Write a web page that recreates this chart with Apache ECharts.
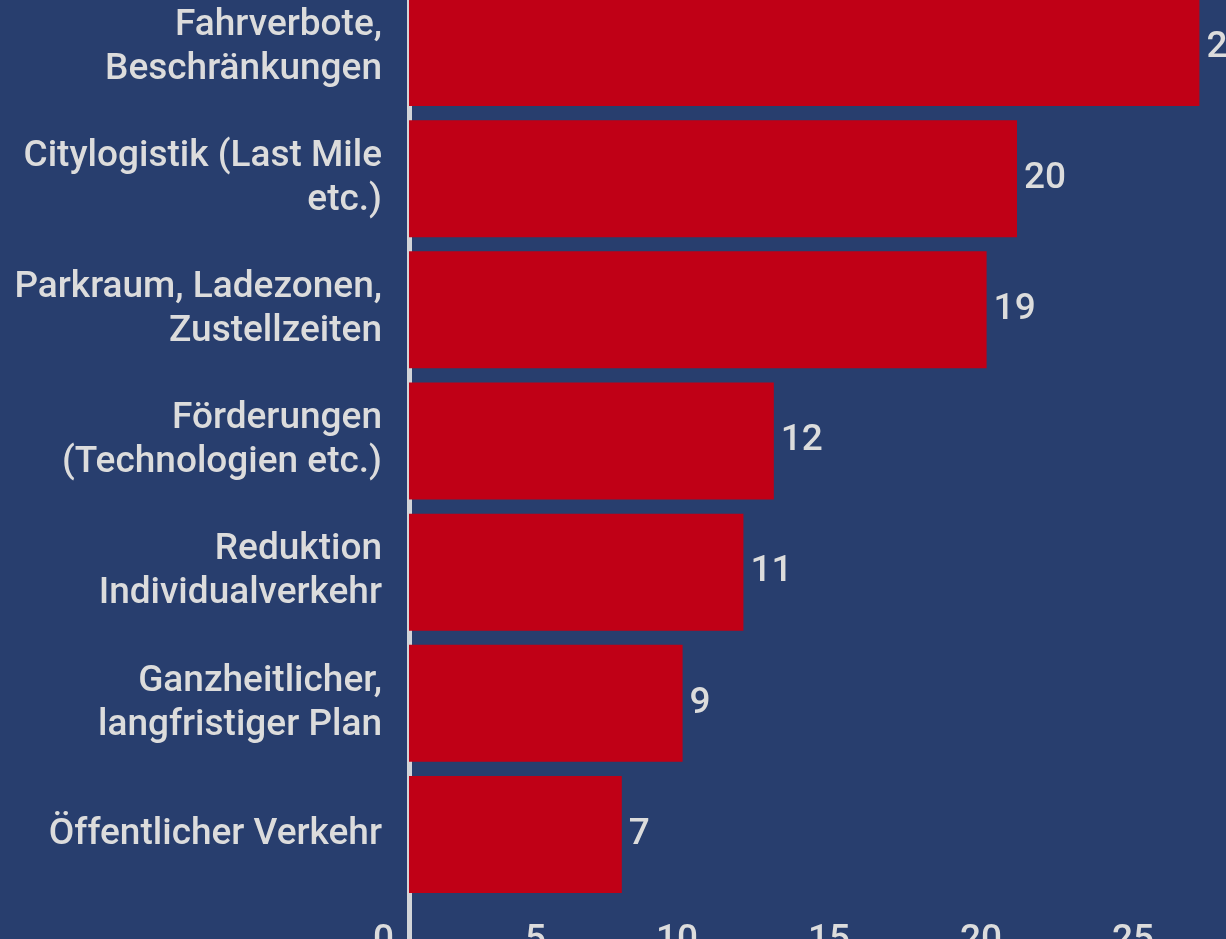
<!DOCTYPE html>
<html>
<head>
<meta charset="utf-8">
<script src="https://cdn.jsdelivr.net/npm/echarts@6/dist/echarts.min.js"></script>
<style>
    html, body { margin: 0; padding: 0; background: #283e6e; }
    #chart { width: 1226px; height: 939px; }
</style>
</head>
<body>
<div id="chart"></div>
<script>
const categories = [
    'Fahrverbote,\nBeschränkungen',
    'Citylogistik (Last Mile\netc.)',
    'Parkraum, Ladezonen,\nZustellzeiten',
    'Förderungen\n(Technologien etc.)',
    'Reduktion\nIndividualverkehr',
    'Ganzheitlicher,\nlangfristiger Plan',
    'Öffentlicher Verkehr',
];
const values = [26, 20, 19, 12, 11, 9, 7];
const xTicks = [0, 5, 10, 15, 20, 25, 30];

const textColor = '#dcdcdc';
const lineColor = '#d2d4d8';

const myChart = echarts.init(document.getElementById('chart'));

let chartOption = {
    backgroundColor: '#283e6e',
    textStyle: { fontFamily: 'Roboto', fontWeight: 500 },
    grid: {
        left: 409,
        width: 912, // 30 sits outside the picture
        top: -18,
        height: 918,
        outerBoundsMode: 'none',
        containLabel: false,
    },
    xAxis: {
        type: 'value',
        min: xTicks[0],
        max: xTicks[xTicks.length - 1],
        interval: xTicks[1] - xTicks[0],
        splitLine: { show: false },
        axisLine: { show: false },
        axisTick: {
            // only the stub under the y axis line
            show: true,
            customValues: [0],
            length: 45,
            lineStyle: { color: lineColor, width: 5 },
        },
        axisLabel: {
            color: textColor,
            fontSize: 37,
            fontWeight: 500,
            align: 'right',
            padding: [0, 15, 0, 0],
            margin: 22,
        },
    },
    yAxis: {
        type: 'category',
        inverse: true,
        data: categories,
        axisTick: { show: false },
        axisLine: {
            show: true,
            lineStyle: { color: lineColor, width: 5 },
        },
        axisLabel: {
            color: textColor,
            fontSize: 37,
            fontWeight: 500,
            lineHeight: 44,
            margin: 27,
            align: 'right',
            padding: [15, 0, 0, 0],
        },
    },
    series: [
        {
            type: 'bar',
            data: values,
            barCategoryGap: '10.8%',
            itemStyle: { color: '#c00016' },
            label: {
                show: true,
                position: 'right',
                distance: 7,
                color: textColor,
                fontSize: 37,
                fontWeight: 500,
                padding: [3, 0, 0, 0],
            },
        },
    ],
};
myChart.setOption(chartOption);
</script>
</body>
</html>
